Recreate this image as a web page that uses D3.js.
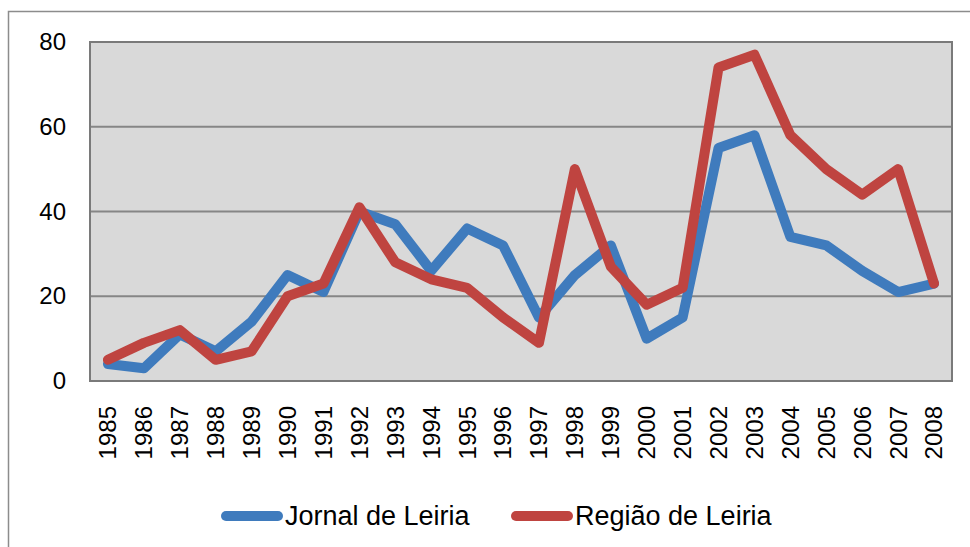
<!DOCTYPE html>
<html>
<head>
<meta charset="utf-8">
<script src="https://cdn.jsdelivr.net/npm/d3@7"></script>
<style>
  body { margin: 0; background: #fff; }
  text { font-family: "Liberation Sans", Arial, sans-serif; fill: #000; }
</style>
</head>
<body>
<svg id="chart" width="970" height="547"></svg>
<script>
// data
const years = ["1985","1986","1987","1988","1989","1990","1991","1992","1993","1994","1995","1996",
  "1997","1998","1999","2000","2001","2002","2003","2004","2005","2006","2007","2008"];
const jornal = [4, 3, 11, 7, 14, 25, 21, 40, 37, 26, 36, 32, 15, 25, 32, 10, 15, 55, 58, 34, 32, 26, 21, 23];
const regiao = [5, 9, 12, 5, 7, 20, 23, 41, 28, 24, 22, 15, 9, 50, 27, 18, 22, 74, 77, 58, 50, 44, 50, 23];
const yTicks = [0, 20, 40, 60, 80];
const seriesNames = ["Jornal de Leiria", "Região de Leiria"];
const colors = ["#3f7bbd", "#bf4440"];

const svg = d3.select("#chart");
const plotL = 90, plotT = 42, plotR = 952, plotB = 381;

// outer frame
svg.append("rect")
  .attr("x", 8.5).attr("y", 11.5)
  .attr("width", 1000).attr("height", 600)
  .attr("fill", "none").attr("stroke", "#8c8c8c").attr("stroke-width", 1.5);

const x = d3.scaleBand().domain(years).range([plotL, plotR]);
const y = d3.scaleLinear().domain([0, 80]).range([plotB, plotT]);

// plot area
svg.append("rect")
  .attr("x", plotL).attr("y", plotT)
  .attr("width", plotR - plotL).attr("height", plotB - plotT)
  .attr("fill", "#d9d9d9");

// gridlines
svg.append("g")
  .selectAll("line")
  .data(yTicks.filter(d => d > 0 && d < 80))
  .join("line")
  .attr("x1", plotL).attr("x2", plotR)
  .attr("y1", d => y(d)).attr("y2", d => y(d))
  .attr("stroke", "#868686").attr("stroke-width", 2);

// y axis labels
const yAxis = svg.append("g")
  .attr("transform", `translate(${plotL},0)`)
  .call(d3.axisLeft(y).tickValues(yTicks).tickSize(0).tickPadding(24));
yAxis.select(".domain").remove();
yAxis.selectAll("text")
  .style("font-family", "'Liberation Sans', Arial, sans-serif")
  .style("font-size", "24px")
  .attr("fill", "#000");

// x axis labels (rotated)
const xAxis = svg.append("g")
  .attr("transform", `translate(0,${plotB})`)
  .call(d3.axisBottom(x).tickSize(0));
xAxis.select(".domain").remove();
xAxis.selectAll("text")
  .style("font-family", "'Liberation Sans', Arial, sans-serif")
  .style("font-size", "24px")
  .attr("fill", "#000")
  .attr("text-anchor", "end")
  .attr("transform", "rotate(-90)")
  .attr("x", -25)
  .attr("y", 0)
  .attr("dy", "0.35em");

// plot border
svg.append("rect")
  .attr("x", plotL).attr("y", plotT)
  .attr("width", plotR - plotL).attr("height", plotB - plotT)
  .attr("fill", "none").attr("stroke", "#7a7a7a").attr("stroke-width", 2);

// lines
const line = d3.line()
  .x((d, i) => x(years[i]) + x.bandwidth() / 2)
  .y(d => y(d));

[jornal, regiao].forEach((s, k) => {
  svg.append("path")
    .datum(s)
    .attr("d", line)
    .attr("fill", "none")
    .attr("stroke", colors[k])
    .attr("stroke-width", 10)
    .attr("stroke-linejoin", "round")
    .attr("stroke-linecap", "round");
});

// legend
const legendX = [226, 516];
const legend = svg.append("g");
seriesNames.forEach((name, k) => {
  legend.append("line")
    .attr("x1", legendX[k]).attr("x2", legendX[k] + 52)
    .attr("y1", 516).attr("y2", 516)
    .attr("stroke", colors[k]).attr("stroke-width", 10)
    .attr("stroke-linecap", "round");
  legend.append("text")
    .attr("x", legendX[k] + 59).attr("y", 516)
    .attr("dy", "0.35em")
    .style("font-size", "27px")
    .text(name);
});
</script>
</body>
</html>
